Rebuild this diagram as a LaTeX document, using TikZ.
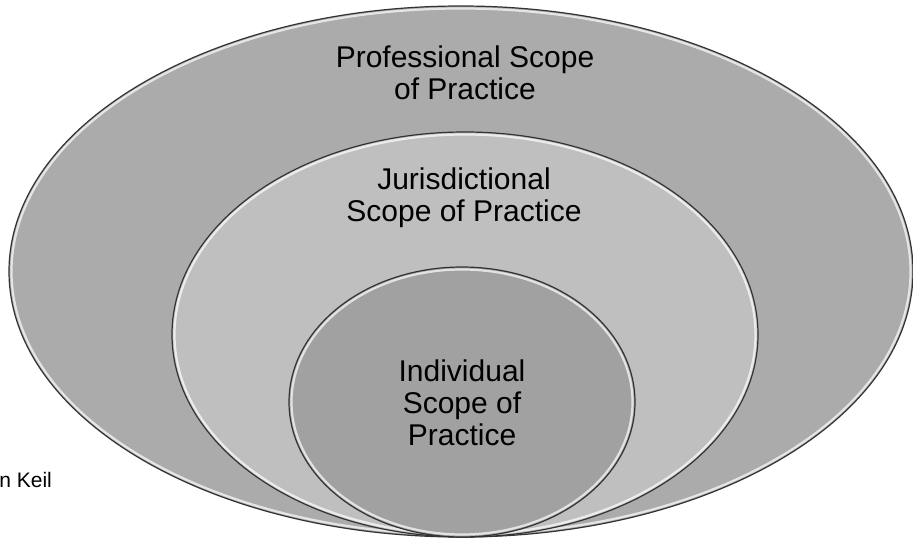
\documentclass[tikz,border=0pt]{standalone}
\usepackage{fontspec}
\setmainfont{Liberation Sans}
\usepackage{xcolor}

\begin{document}
\begin{tikzpicture}[x=0.5pt, y=-0.5pt,
    ring/.style={fill=#1, draw=black!80, line width=0.6pt},
    sheen/.style={draw=white, line width=1.1pt, opacity=0.7},
    label/.style={align=center, font=\fontsize{15}{16}\selectfont}]
  \useasboundingbox (0,0) rectangle (913,539);

  % Professional (outer)
  \draw[ring=black!33] (461,271.5) ellipse [x radius=452, y radius=265.5];
  \draw[sheen] (461,271.5) ellipse [x radius=449.5, y radius=263];

  % Jurisdictional (middle)
  \draw[ring=black!25] (465,334.5) ellipse [x radius=293, y radius=202.5];
  \draw[sheen] (465,334.5) ellipse [x radius=290.5, y radius=200];

  % Individual (inner)
  \draw[ring=black!37] (462,402) ellipse [x radius=173, y radius=135];
  \draw[sheen] (462,402) ellipse [x radius=170.5, y radius=132.5];

  \node[label] (prof) at (465,73) {Professional Scope\\of Practice};
  \node[label] (juris) at (464,198) {Jurisdictional\\Scope of Practice};
  \node[label] (indiv) at (462,403) {Individual\\Scope of\\Practice};

  \node[anchor=base west, inner sep=0pt, font=\fontsize{10.5}{12}\selectfont] (credit) at (-1,487) {n Keil};
\end{tikzpicture}
\end{document}
